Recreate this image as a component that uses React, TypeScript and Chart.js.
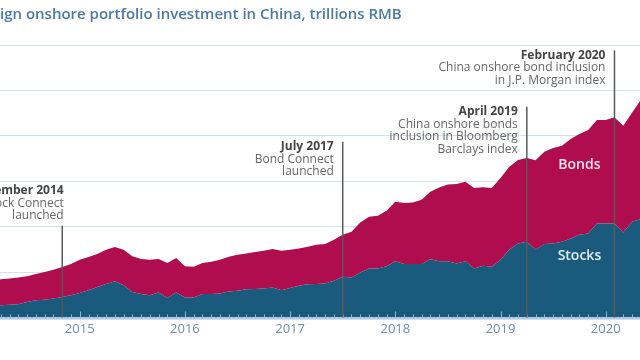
import React, { useEffect, useRef } from "react";
import { Chart, registerables } from "chart.js";

Chart.register(...registerables);

// ---- data -------------------------------------------------------------
const months = [
  "2014-03", "2014-04", "2014-05", "2014-06", "2014-07", "2014-08", "2014-09", "2014-10", "2014-11", "2014-12",
  "2015-01", "2015-02", "2015-03", "2015-04", "2015-05", "2015-06", "2015-07", "2015-08", "2015-09", "2015-10", "2015-11", "2015-12",
  "2016-01", "2016-02", "2016-03", "2016-04", "2016-05", "2016-06", "2016-07", "2016-08", "2016-09", "2016-10", "2016-11", "2016-12",
  "2017-01", "2017-02", "2017-03", "2017-04", "2017-05", "2017-06", "2017-07", "2017-08", "2017-09", "2017-10", "2017-11", "2017-12",
  "2018-01", "2018-02", "2018-03", "2018-04", "2018-05", "2018-06", "2018-07", "2018-08", "2018-09", "2018-10", "2018-11", "2018-12",
  "2019-01", "2019-02", "2019-03", "2019-04", "2019-05", "2019-06", "2019-07", "2019-08", "2019-09", "2019-10", "2019-11", "2019-12",
  "2020-01", "2020-02", "2020-03", "2020-04", "2020-05",
];

// trillions RMB
const stocks = [
  0.26, 0.27, 0.28, 0.29, 0.34, 0.38, 0.39, 0.42, 0.45, 0.49,
  0.54, 0.60, 0.67, 0.74, 0.80, 0.71, 0.56, 0.52, 0.49, 0.55, 0.43, 0.55,
  0.44, 0.44, 0.52, 0.52, 0.53, 0.57, 0.59, 0.62, 0.63, 0.64, 0.66, 0.60,
  0.65, 0.70, 0.73, 0.74, 0.75, 0.81, 0.90, 0.88, 0.99, 1.08, 1.08, 1.13,
  1.24, 1.18, 1.18, 1.18, 1.28, 1.24, 1.24, 1.19, 1.24, 1.08, 1.14, 1.12,
  1.27, 1.50, 1.63, 1.67, 1.49, 1.62, 1.63, 1.67, 1.74, 1.82, 1.85, 2.07,
  2.07, 2.07, 1.87, 2.11, 2.17,
];

const bonds = [
  0.56, 0.57, 0.58, 0.59, 0.57, 0.58, 0.61, 0.63, 0.66, 0.69,
  0.73, 0.73, 0.73, 0.75, 0.75, 0.78, 0.79, 0.77, 0.78, 0.74, 0.77, 0.76,
  0.69, 0.68, 0.68, 0.71, 0.74, 0.77, 0.79, 0.79, 0.81, 0.83, 0.85, 0.87,
  0.84, 0.82, 0.83, 0.86, 0.87, 0.90, 0.92, 1.01, 1.10, 1.14, 1.16, 1.22,
  1.31, 1.34, 1.35, 1.41, 1.49, 1.62, 1.69, 1.75, 1.75, 1.77, 1.73, 1.73,
  1.80, 1.82, 1.84, 1.84, 1.97, 2.03, 2.10, 2.11, 2.19, 2.22, 2.28, 2.28,
  2.28, 2.34, 2.35, 2.40, 2.62,
];

const yearTicks = [2015, 2016, 2017, 2018, 2019, 2020];
const valueTicks = [0, 1, 2, 3, 4, 5, 6];

const titleText = "Foreign onshore portfolio investment in China, trillions RMB";
const titleHidden = "Fore"; // part of the title cut off by the left edge in the reference

const eventDates = ["2014-11", "2017-07", "2019-04", "2020-02"];
const eventHeads = ["November 2014", "July 2017", "April 2019", "February 2020"];
const eventBodies = [
  ["Stock Connect", "launched"],
  ["Bond Connect", "launched"],
  ["China onshore bonds", "inclusion in Bloomberg", "Barclays index"],
  ["China onshore bond inclusion", "in J.P. Morgan index"],
];
const eventLevels = [2.02, 3.87, 4.64, 5.88]; // top of each marker line, in trillions

const seriesNames = ["Stocks", "Bonds"];
const seriesLabelAt = ["2019-10", "2019-10"];
const seriesLabelLevels = [1.36, 3.36];

// ---- style ------------------------------------------------------------
const FONT = "'Open Sans', 'Noto Sans', sans-serif";
const STOCK_COLOR = "#1a5a7d";
const BOND_COLOR = "#b00d4e";
const X_MIN = 2014.242;
const X_MAX = 2020.326;

const toYear = (s: string) => {
  const [y, m] = s.split("-").map(Number);
  return y + (m - 1) / 12;
};

export default function App() {
  const ref = useRef<HTMLCanvasElement>(null);

  useEffect(() => {
    const xs = months.map(toYear);

    const overlay = {
      id: "overlay",
      afterDraw(chart: any) {
        const { ctx, chartArea } = chart;
        const xs_ = chart.scales.x;
        const ys_ = chart.scales.y;
        ctx.save();

        // title (partly cut off on the left, as in the reference)
        ctx.font = `600 15px ${FONT}`;
        ctx.fillStyle = "#4b79a8";
        ctx.textBaseline = "middle";
        ctx.textAlign = "left";
        const hidden = ctx.measureText(titleHidden).width;
        ctx.fillText(titleText, -hidden, 15);

        // axis line + monthly ticks
        const bottom = chartArea.bottom;
        ctx.strokeStyle = "#a9c5df";
        ctx.lineWidth = 2;
        ctx.beginPath();
        ctx.moveTo(chartArea.left, bottom + 1);
        ctx.lineTo(chartArea.right, bottom + 1);
        ctx.stroke();
        ctx.strokeStyle = "#93b6d6";
        ctx.lineWidth = 1;
        const startM = Math.ceil(X_MIN * 12);
        const endM = Math.floor(X_MAX * 12);
        for (let k = startM; k <= endM; k++) {
          const v = k / 12;
          const px = Math.round(xs_.getPixelForValue(v)) + 0.5;
          const isYear = k % 12 === 0;
          ctx.beginPath();
          ctx.moveTo(px, bottom);
          ctx.lineTo(px, bottom - (isYear ? 6 : 3));
          ctx.stroke();
        }

        // year labels
        ctx.font = `400 13px ${FONT}`;
        ctx.fillStyle = "#6b8db5";
        ctx.textAlign = "center";
        ctx.textBaseline = "middle";
        yearTicks.forEach((y) => {
          ctx.fillText(String(y), xs_.getPixelForValue(y), bottom + 12);
        });

        // event markers
        eventDates.forEach((d, i) => {
          const px = xs_.getPixelForValue(toYear(d));
          const top = ys_.getPixelForValue(eventLevels[i]);
          ctx.strokeStyle = "#595959";
          ctx.lineWidth = 1.5;
          ctx.beginPath();
          ctx.moveTo(px, top);
          ctx.lineTo(px, bottom);
          ctx.stroke();

          const lines = [eventHeads[i], ...eventBodies[i]];
          const lh = 12.5;
          let rightX: number;
          let firstY: number;
          if (i === 0) {
            rightX = px + 1.5;
            firstY = top - 10 - (lines.length - 1) * lh;
          } else {
            rightX = px - 9;
            firstY = top + 5;
          }
          ctx.textAlign = "right";
          ctx.textBaseline = "middle";
          lines.forEach((t, j) => {
            ctx.font = j === 0 ? `700 12px ${FONT}` : `400 12px ${FONT}`;
            ctx.fillStyle = j === 0 ? "#444444" : "#666666";
            ctx.fillText(t, rightX, firstY + j * lh);
          });
        });

        // series labels
        seriesNames.forEach((n, i) => {
          const px = xs_.getPixelForValue(toYear(seriesLabelAt[i]));
          const py = ys_.getPixelForValue(seriesLabelLevels[i]);
          ctx.font = `600 14px ${FONT}`;
          ctx.fillStyle = i === 0 ? "#e4eef5" : "#f7e3eb";
          ctx.textAlign = "center";
          ctx.textBaseline = "middle";
          ctx.fillText(n, px, py);
        });

        ctx.restore();
      },
    };

    const chart = new Chart(ref.current as HTMLCanvasElement, {
      type: "line",
      data: {
        datasets: [
          {
            label: seriesNames[0],
            data: xs.map((x, i) => ({ x, y: stocks[i] })),
            backgroundColor: STOCK_COLOR,
            borderColor: STOCK_COLOR,
            borderWidth: 0,
            pointRadius: 0,
            tension: 0,
            fill: "origin",
          },
          {
            label: seriesNames[1],
            data: xs.map((x, i) => ({ x, y: bonds[i] })),
            backgroundColor: BOND_COLOR,
            borderColor: BOND_COLOR,
            borderWidth: 0,
            pointRadius: 0,
            tension: 0,
            fill: "-1",
          },
        ],
      },
      options: {
        responsive: false,
        animation: false,
        layout: { padding: { left: 0, right: 0, top: 45, bottom: 0 } },
        plugins: {
          legend: { display: false },
          tooltip: { enabled: false },
          title: { display: false },
        },
        scales: {
          x: {
            type: "linear",
            min: X_MIN,
            max: X_MAX,
            grid: { display: false },
            border: { display: false },
            afterBuildTicks: (s: any) => {
              s.ticks = yearTicks.map((v) => ({ value: v }));
            },
            afterFit: (s: any) => {
              s.height = 42.5;
            },
            ticks: { display: false },
          },
          y: {
            stacked: true,
            min: 0,
            max: 6,
            z: 1,
            afterBuildTicks: (s: any) => {
              s.ticks = valueTicks.map((v) => ({ value: v }));
            },
            afterFit: (s: any) => {
              s.width = 0;
            },
            ticks: { display: false },
            grid: { color: "rgba(170,195,225,0.5)", lineWidth: 1, drawTicks: false },
            border: { display: false },
          },
        },
      } as any,
      plugins: [overlay],
    });
    return () => chart.destroy();
  }, []);

  return (
    <div
      style={{
        position: "fixed",
        left: 0,
        top: 0,
        width: 640,
        height: 360,
        overflow: "hidden",
        background: "#ffffff",
      }}
    >
      <canvas ref={ref} width={640} height={360} style={{ display: "block" }} />
    </div>
  );
}
